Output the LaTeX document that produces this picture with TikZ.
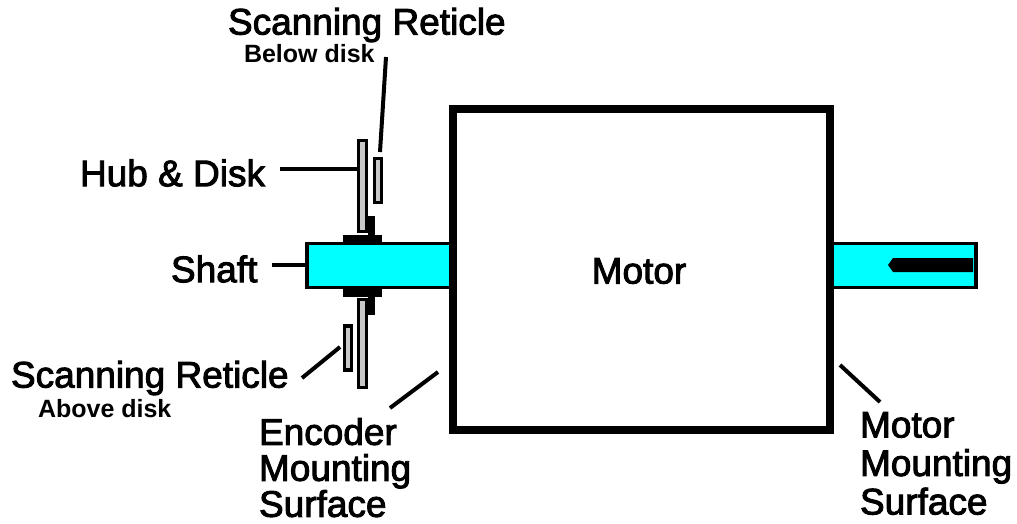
\documentclass[tikz,border=0pt]{standalone}
\usepackage{fontspec}
\setmainfont{Liberation Sans}
\newfontfamily\labelfont[FakeBold=2.5]{Liberation Sans}
\usepackage{xcolor}
\usepackage{tikz}
\usetikzlibrary{positioning, arrows.meta}
\definecolor{shaftcyan}{RGB}{0,255,255}
\definecolor{diskgray}{RGB}{200,200,200}

\begin{document}
\begin{tikzpicture}[x=1pt, y=-1pt,
        part/.style={draw=black, fill=#1, inner sep=0pt, outer sep=0pt, line width=3.6pt},
        solidpart/.style={fill=black, inner sep=0pt, outer sep=0pt},
        biglabel/.style={font=\labelfont\fontsize{37}{37}\selectfont, inner sep=0pt, outer sep=0pt, align=left},
        smalllabel/.style={font=\bfseries\fontsize{25}{26}\selectfont, inner sep=0pt, outer sep=0pt},
        leader/.style={line width=4pt, black}]
      \useasboundingbox (0,0) rectangle (1017,523);
      % shafts
      \node[part=shaftcyan, minimum width=146pt, minimum height=44pt] (leftshaft) at (380,265.5) {};
      \node[part=shaftcyan, minimum width=145pt, minimum height=44pt] (rightshaft) at (903.5,265.5) {};
      \coordinate (slottip) at (888,265);
      \fill[black] (slottip) -- (893,258) -- (973,258) -- (973,272) -- (893,272) -- cycle;
      % motor body
      \node[draw=black, line width=8pt, inner sep=0pt, outer sep=0pt, minimum width=377pt, minimum height=321pt] (motor) at (641.5,269) {};
      % hub and disk
      \node[solidpart, minimum width=39pt, minimum height=8pt] (hubtop) at (362.5,238.5) {};
      \node[solidpart, minimum width=39pt, minimum height=8pt] (hubbottom) at (362.5,292.5) {};
      \node[solidpart, minimum width=7pt, minimum height=20pt] (collartop) at (371.5,226) {};
      \node[solidpart, minimum width=7pt, minimum height=20pt] (collarbottom) at (371.5,305) {};
      \node[part=diskgray, minimum width=8pt, minimum height=91pt] (disktop) at (362.5,186) {};
      \node[part=diskgray, minimum width=8pt, minimum height=88pt] (diskbottom) at (362.5,343.5) {};
      \node[part=diskgray, minimum width=7pt, minimum height=44pt] (reticletop) at (378,180.5) {};
      \node[part=diskgray, minimum width=7pt, minimum height=44pt] (reticlebottom) at (348,348) {};
      % labels
      \node[biglabel, anchor=west] (scantop) at (228,25) {Scanning Reticle};
      \node[smalllabel, anchor=west] (belowdisk) at (244,54) {Below disk};
      \node[biglabel, anchor=west] (hublabel) at (80,173) {Hub \& Disk};
      \node[biglabel, anchor=west] (shaftlabel) at (171,269) {Shaft};
      \node[biglabel, anchor=west] (scanbottom) at (11,378) {Scanning Reticle};
      \node[smalllabel, anchor=west] (abovedisk) at (38,409) {Above disk};
      \node[biglabel, anchor=center] (motorlabel) at (639,271) {Motor};
      \node[biglabel, anchor=north west] (encoderlabel) at (259,418) {Encoder\\[-1pt]Mounting\\[-1pt]Surface};
      \node[biglabel, anchor=north west] (mountlabel) at (860,412) {Motor\\[1.5pt]Mounting\\[1.5pt]Surface};
      % leaders
      \coordinate (hubend) at (280,169);
      \coordinate (shaftend) at (272,265);
      \coordinate (scanend) at (386,57);
      \coordinate (scanmid) at (380,152);
      \coordinate (bottomend) at (302,378);
      \coordinate (bottomtip) at (340,347);
      \coordinate (encoderend) at (390,408);
      \coordinate (encodertip) at (438,372);
      \coordinate (mountend) at (880,402);
      \coordinate (mounttip) at (840,365);
      \draw[leader] (hubend) -- (disktop.west |- hubend);
      \draw[leader] (shaftend) -- (leftshaft.west |- shaftend);
      \draw[leader] (scanend) -- (scanmid);
      \draw[leader] (bottomend) -- (bottomtip);
      \draw[leader] (encoderend) -- (encodertip);
      \draw[leader] (mountend) -- (mounttip);
    \end{tikzpicture}
\end{document}
